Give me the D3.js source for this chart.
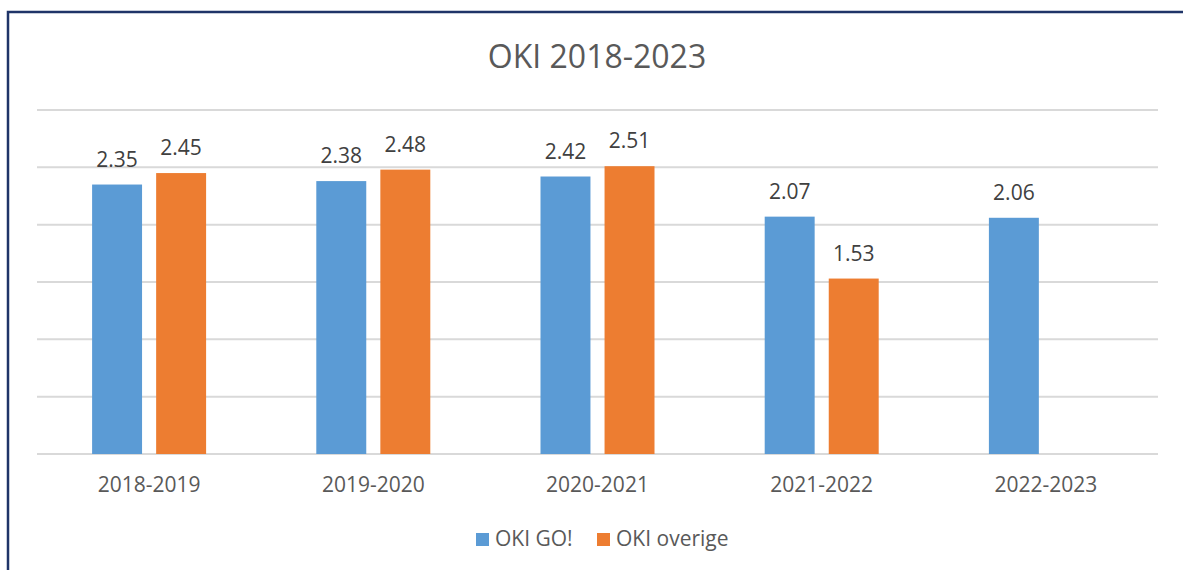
<!DOCTYPE html>
<html>
<head>
<meta charset="utf-8">
<script src="https://cdn.jsdelivr.net/npm/d3@7"></script>
<style>
  body { margin: 0; background: #fff; }
  svg text { font-family: "Open Sans", sans-serif; }
</style>
</head>
<body>
<svg id="chart" width="1183" height="570"></svg>
<script>
// chart data
const title = 'OKI 2018-2023'
const categories = ['2018-2019', '2019-2020', '2020-2021', '2021-2022', '2022-2023']
const seriesNames = ['OKI GO!', 'OKI overige']
const okiGo = [2.35, 2.38, 2.42, 2.07, 2.06]
const okiOverige = [2.45, 2.48, 2.51, 1.53, null]
const yTicks = [0, 0.5, 1, 1.5, 2, 2.5, 3]
const colors = ['#5B9BD5', '#ED7D31']

const svg = d3.select('#chart')

// outer frame
svg.append('rect')
  .attr('x', 8).attr('y', 12)
  .attr('width', 1190).attr('height', 580)
  .attr('fill', 'none')
  .attr('stroke', '#1F3468')
  .attr('stroke-width', 2.5)

const x0 = d3.scaleBand().domain(categories).range([37, 1158])
const x1 = d3.scaleBand().domain(seriesNames).range([0, 114]).paddingInner(0.22)
const y = d3.scaleLinear().domain([0, 3]).range([454, 110])

// gridlines
svg.append('g').selectAll('line')
  .data(yTicks)
  .join('line')
  .attr('x1', 37).attr('x2', 1158)
  .attr('y1', d => y(d)).attr('y2', d => y(d))
  .attr('stroke', '#D9D9D9')
  .attr('stroke-width', 2)

const rows = categories.map((c, i) => ({ cat: c, vals: [okiGo[i], okiOverige[i]] }))

const groups = svg.append('g').selectAll('g')
  .data(rows)
  .join('g')
  .attr('transform', d => `translate(${x0(d.cat) + (x0.bandwidth() - 114) / 2},0)`)

const bars = d => d.vals.map((v, j) => ({ name: seriesNames[j], v, j })).filter(b => b.v != null)

groups.selectAll('rect')
  .data(bars)
  .join('rect')
  .attr('x', d => x1(d.name))
  .attr('width', x1.bandwidth())
  .attr('y', d => y(d.v))
  .attr('height', d => y(0) - y(d.v))
  .attr('fill', d => colors[d.j])

groups.selectAll('text')
  .data(bars)
  .join('text')
  .attr('x', d => x1(d.name) + x1.bandwidth() / 2)
  .attr('y', d => y(d.v) - 18)
  .attr('text-anchor', 'middle')
  .attr('font-size', 21)
  .attr('fill', '#404040')
  .text(d => d.v.toFixed(2))

// category labels
svg.append('g').selectAll('text')
  .data(categories)
  .join('text')
  .attr('x', d => x0(d) + x0.bandwidth() / 2)
  .attr('y', 492)
  .attr('text-anchor', 'middle')
  .attr('font-size', 21)
  .attr('fill', '#595959')
  .text(d => d)

// title
svg.append('text')
  .attr('x', 597).attr('y', 68)
  .attr('text-anchor', 'middle')
  .attr('font-size', 32)
  .attr('fill', '#595959')
  .text(title)

// legend
const legendX = [476, 597]
const legend = svg.append('g').selectAll('g')
  .data(seriesNames)
  .join('g')
  .attr('transform', (d, i) => `translate(${legendX[i]},533)`)
legend.append('rect')
  .attr('width', 13).attr('height', 13)
  .attr('fill', (d, i) => colors[i])
legend.append('text')
  .attr('x', 19).attr('y', 13)
  .attr('font-size', 21)
  .attr('fill', '#595959')
  .text(d => d)
</script>
</body>
</html>
